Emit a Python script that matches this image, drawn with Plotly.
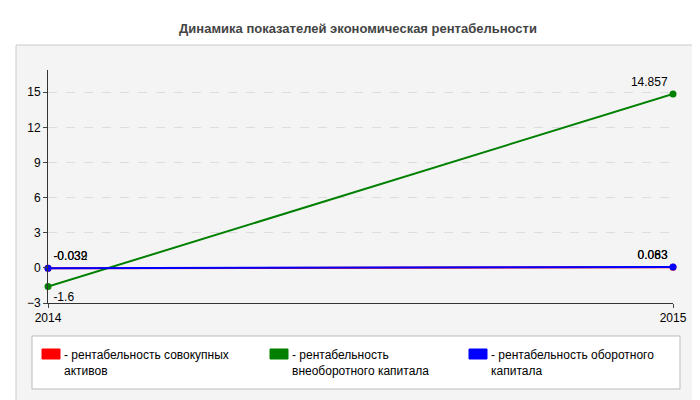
import plotly.graph_objects as go

years = [2014, 2015]
names = ["рентабельность совокупных<br>активов", "рентабельность<br>внеоборотного капитала", "рентабельность оборотного<br>капитала"]
red_vals = [-0.032, 0.063]
green_vals = [-1.6, 14.857]
blue_vals = [-0.039, 0.083]
colors = ["#ff0000", "#008000", "#0000ff"]
series = [red_vals, green_vals, blue_vals]
textpos = [["top right", "top left"], ["bottom right", "top left"], ["top right", "top left"]]

fig = go.Figure()
for n, v, c, tp in zip(names, series, colors, textpos):
    fig.add_trace(go.Scatter(x=years, y=v, mode="lines+markers+text", showlegend=False,
                             line=dict(color=c, width=2), marker=dict(color=c, size=7, symbol="circle"),
                             text=[str(x) for x in v], textposition=tp,
                             textfont=dict(size=12, color="#000"), cliponaxis=False))

def X(x): return (x - 40) / 625
def Y(y): return (295 - y) / 233

shapes = [
    dict(type="rect", xref="paper", yref="paper", layer="below",
         x0=X(8), x1=X(690), y0=Y(395), y1=Y(37),
         fillcolor="#f4f4f4", line=dict(color="#ccc", width=1)),
    dict(type="rect", xref="paper", yref="paper", layer="below",
         x0=X(24), x1=X(672), y0=Y(381), y1=Y(328),
         fillcolor="white", line=dict(color="#bbb", width=1)),
]
annotations = []
for n, c, lx in zip(names, colors, [34, 262, 461]):
    shapes.append(dict(type="rect", xref="paper", yref="paper", x0=X(lx), x1=X(lx + 18),
                       y0=Y(351), y1=Y(341), fillcolor=c, line=dict(color=c, width=1)))
    annotations.append(dict(xref="paper", yref="paper", x=X(lx + 20), y=Y(338), xanchor="left", yanchor="top",
                            text="- " + n, showarrow=False, align="left", font=dict(size=12, color="#000")))

fig.update_layout(
    width=700, height=400, paper_bgcolor="white", plot_bgcolor="#fdfdf8",
    margin=dict(l=40, r=35, t=62, b=105),
    font=dict(family="Arial, Liberation Sans", size=12, color="#000"),
    title=dict(text="<b>Динамика показателей экономическая рентабельности</b>", x=0.5, y=0.95,
               xanchor="center", yanchor="middle", font=dict(size=13, color="#444")),
    xaxis=dict(range=[2014, 2015], tickvals=years, ticktext=["2014", "2015"], showgrid=False,
               showline=True, linecolor="#333", ticks="outside", ticklen=4, zeroline=False, tickfont=dict(size=12)),
    yaxis=dict(range=[-3, 16.9], tickvals=[-3, 0, 3, 6, 9, 12, 15], showgrid=True, gridcolor="#ddd",
               griddash="dash", showline=True, linecolor="#333", ticks="outside", ticklen=4, zeroline=False,
               tickfont=dict(size=12)),
    shapes=shapes, annotations=annotations,
)
fig.write_html("out.html")
